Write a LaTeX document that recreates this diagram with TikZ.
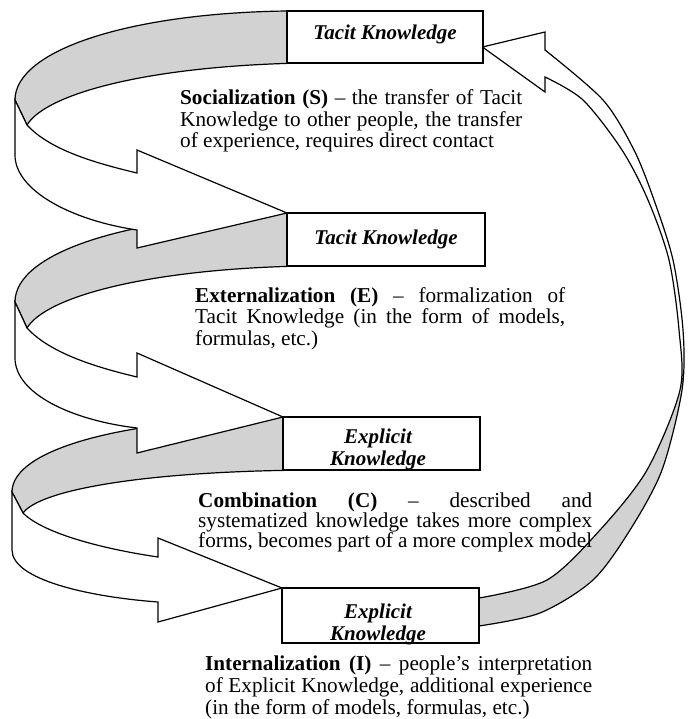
\documentclass[tikz,border=0pt]{standalone}
\usepackage{fontspec}
\setmainfont{Liberation Serif}
\usetikzlibrary{calc}
\definecolor{bandgray}{RGB}{210,210,210}
\begin{document}
\begin{tikzpicture}[x=1pt,y=-1pt,
  rib/.style={draw=black,line width=1.2pt,line join=miter},
  back/.style={rib,fill=bandgray},
  front/.style={rib,fill=white},
  kbox/.style={inner sep=0pt,anchor=north west},
  ktext/.style={inner sep=0pt,anchor=base,font=\fontsize{21}{22}\selectfont\bfseries\itshape},
  para/.style={inner sep=0pt,anchor=base west}
]
\useasboundingbox (0,0) rectangle (688,719);

% box frames (named), drawn on top later
\node[kbox,minimum width=196pt,minimum height=52pt] (b1) at (287,11) {};
\node[kbox,minimum width=198pt,minimum height=53pt] (b2) at (287,213) {};
\node[kbox,minimum width=197pt,minimum height=53pt] (b3) at (283,417) {};
\node[kbox,minimum width=197pt,minimum height=55pt] (b4) at (282,588) {};

% ---------- gray backs ----------
\path[back] (b1.north west) .. controls (130,13) and (15,50) .. (15,100) -- (27,125)
  .. controls (45,95) and (140,68) .. (b1.south west) -- cycle;
\path[back] (b2.north west) .. controls (130,216) and (15,252) .. (15,302) -- (27,328)
  .. controls (45,298) and (140,271) .. (b2.south west) -- cycle;
\path[back] (b3.north west) .. controls (120,419) and (12,450) .. (12,492) -- (23,513)
  .. controls (40,490) and (140,473) .. (b3.south west) -- cycle;

% ---------- right returning band ----------
\coordinate (tipR) at ($(b1.north east)+(-1,36)$);
\def\rband{(tipR) -- (545,32) -- (545,50)
  -- plot[smooth] coordinates {(545,50) (603,100) (634,150) (654,200) (673,260) (683,330) (682,390) (662,470) (630,530) (593,580) (540,613) (479,626)}
  -- plot[smooth] coordinates {(479,598) (547,580) (600,530) (647,470) (680,390) (679,330) (669,260) (648,200) (622,150) (583,100) (545,77)}
  -- (545,92) -- cycle}
\fill[bandgray] \rband;
\begin{scope}
  \clip (0,0) rectangle (688,392);
  \fill[white] \rband;
\end{scope}
\draw[rib] \rband;

% ---------- white fronts (arrows) ----------
\path[front] (27,125) .. controls (50,150) and (95,163) .. (137,173) -- (137,150)
  -- (b2.north west) -- (137,248) -- (137,230)
  .. controls (70,220) and (15,190) .. (15,155) -- (15,100) -- cycle;
\path[front] (27,328) .. controls (50,353) and (95,367) .. (137,377) -- (137,353)
  -- (b3.north west) -- (137,453) -- (137,428)
  .. controls (70,420) and (15,393) .. (15,358) -- (15,302) -- cycle;
\path[front] (23,513) .. controls (45,535) and (110,550) .. (158,557) -- (158,538)
  -- (b4.north west) -- (158,622) -- (158,602)
  .. controls (90,597) and (12,580) .. (12,550) -- (12,492) -- cycle;

% ---------- boxes on top ----------
\draw[line width=2pt,fill=white] (b1.north west) rectangle (b1.south east);
\draw[line width=2pt,fill=white] (b2.north west) rectangle (b2.south east);
\draw[line width=2pt,fill=white] (b3.north west) rectangle (b3.south east);
\draw[line width=2pt,fill=white] (b4.north west) rectangle (b4.south east);

\node[ktext] (k1) at (385,40) {Tacit Knowledge};
\node[ktext] (k2) at (386,244) {Tacit Knowledge};
\node[ktext] (k3) at (378,443) {\parbox[t]{160pt}{\centering Explicit\\Knowledge}};
\node[ktext] (k4) at (378,618) {\parbox[t]{160pt}{\centering Explicit\\Knowledge}};
\draw[line width=2pt] (b4.south west) -- (b4.south east);

% ---------- paragraphs ----------
\node[para] (p1) at (180,105) {\parbox[t]{342pt}{\fontsize{21.2}{21.5}\selectfont
\makebox[\linewidth][s]{\textbf{Socialization (S)} – the transfer of Tacit}\\
\makebox[\linewidth][s]{Knowledge to other people, the transfer}\\
of experience, requires direct contact}};

\node[para] (p2) at (195,302) {\parbox[t]{370pt}{\fontsize{21.2}{21.5}\selectfont
\makebox[\linewidth][s]{\textbf{Externalization (E)} – formalization of}\\
\makebox[\linewidth][s]{Tacit Knowledge (in the form of models,}\\
formulas, etc.)}};

\node[para] (p3) at (198,507) {\parbox[t]{394pt}{\fontsize{21.2}{19}\selectfont
\makebox[\linewidth][s]{\textbf{Combination (C)} – described and}\\
\makebox[\linewidth][s]{systematized knowledge takes more complex}\\
\makebox[\linewidth][s]{forms, becomes part of a more complex model}}};

\node[para] (p4) at (205,670) {\parbox[t]{387pt}{\fontsize{21.2}{22}\selectfont
\makebox[\linewidth][s]{\textbf{Internalization (I)} – people's interpretation}\\
\makebox[\linewidth][s]{of Explicit Knowledge, additional experience}\\
(in the form of models, formulas, etc.)}};
\end{tikzpicture}
\end{document}
